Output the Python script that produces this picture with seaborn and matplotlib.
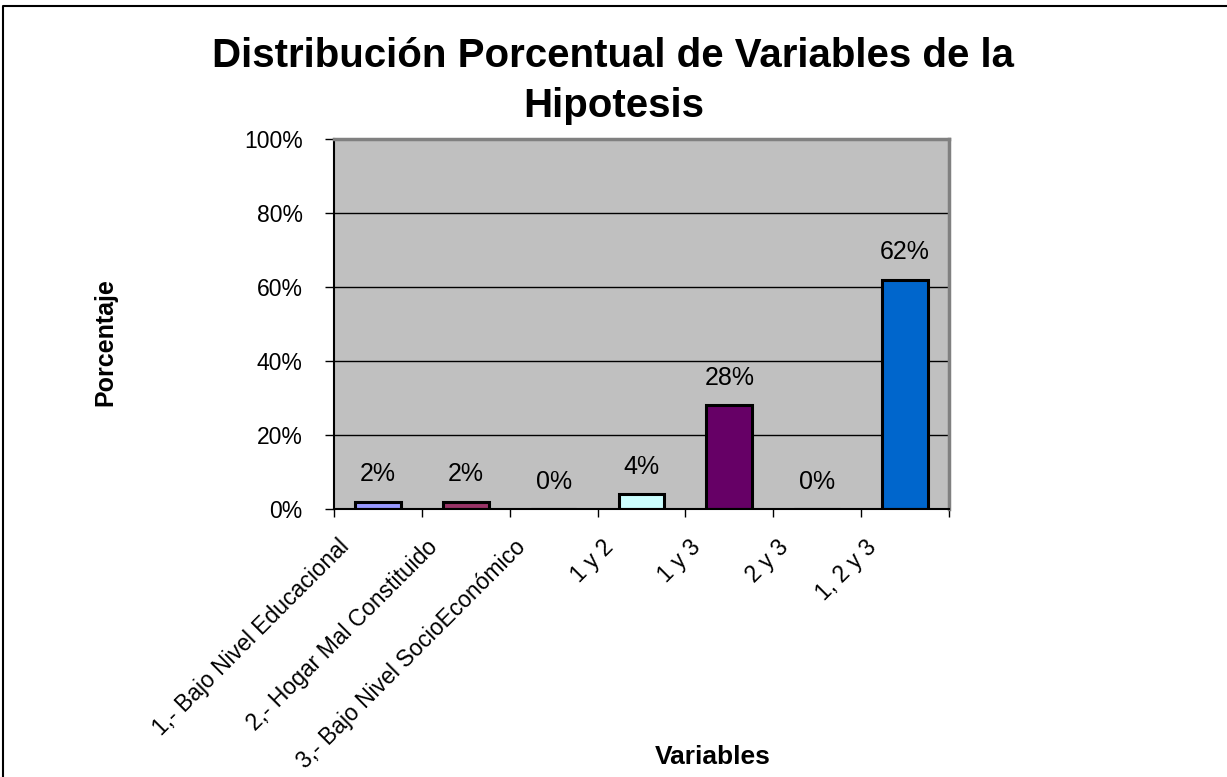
import seaborn as sns
import matplotlib.pyplot as plt
import matplotlib.transforms as mtransforms
from matplotlib.lines import Line2D

sns.set_style('white')
plt.rcParams['font.family'] = ['Liberation Sans', 'DejaVu Sans']
plt.rcParams['text.color'] = 'black'
plt.rcParams['xtick.color'] = 'black'
plt.rcParams['ytick.color'] = 'black'

categories = ['1,- Bajo Nivel Educacional', '2,- Hogar Mal Constituido',
              '3,- Bajo Nivel SocioEconómico', '1 y 2', '1 y 3', '2 y 3', '1, 2 y 3']
values = [2, 2, 0, 4, 28, 0, 62]
colors = ['#9999FF', '#993366', '#FFFFCC', '#CCFFFF', '#660066', '#FF8080', '#0066CC']
y_ticks = [0, 20, 40, 60, 80, 100]
y_tick_labels = ['0%', '20%', '40%', '60%', '80%', '100%']

fig = plt.figure(figsize=(12.27, 7.77), dpi=100)
ax = fig.add_axes([0.2722, 0.3449, 0.5012, 0.4762])
ax.set_facecolor('#C0C0C0')

sns.barplot(x=categories, y=values, hue=categories, palette=colors, legend=False,
            width=0.52, edgecolor='black', linewidth=2.2, saturation=1, ax=ax)

for cont in ax.containers:
    ax.bar_label(cont, fmt='%g%%', padding=11, fontsize=18, color='black')

ax.set_ylim(0, 100)
ax.set_xlim(-0.5, len(categories) - 0.5)
ax.set_yticks(y_ticks)
ax.set_yticklabels(y_tick_labels, fontsize=16.5)
ax.yaxis.grid(True, color='black', linewidth=1)
ax.set_axisbelow(True)
ax.tick_params(axis='y', length=6.5, width=1, color='black', direction='out', pad=16, left=True)

# category ticks at the boundaries, labels under the bars
ax.set_xticks(range(len(categories)))
ax.set_xticklabels(categories, fontsize=16.5, rotation=45, ha='right', va='top',
                   rotation_mode='anchor')
ax.set_xticks([i - 0.5 for i in range(len(categories) + 1)], minor=True)
ax.tick_params(axis='x', which='major', length=0, pad=19)
ax.tick_params(axis='x', which='minor', length=6, width=1, color='black', direction='out', bottom=True)
offset = mtransforms.ScaledTranslation(-40 / 100, 0, fig.dpi_scale_trans)
for lab in ax.get_xticklabels():
    lab.set_transform(lab.get_transform() + offset)

ax.set_xlabel('')
ax.set_ylabel('')
for side in ['left', 'bottom']:
    ax.spines[side].set_color('black')
    ax.spines[side].set_linewidth(1.5)
for side in ['top', 'right']:
    ax.spines[side].set_color('#808080')
    ax.spines[side].set_linewidth(2.5)

fig.text(0.5, 0.896, 'Distribución Porcentual de Variables de la\nHipotesis',
         ha='center', va='center', fontsize=29, fontweight='bold', linespacing=1.4)
fig.text(0.0856, 0.56, 'Porcentaje', rotation=90, ha='center', va='center',
         fontsize=18, fontweight='bold')
fig.text(0.581, 0.0257, 'Variables', ha='center', va='center',
         fontsize=19, fontweight='bold')

# outer chart border (left and top edges visible)
fig.add_artist(Line2D([3 / 1227, 3 / 1227, 1], [0, 1 - 6 / 777, 1 - 6 / 777],
                      transform=fig.transFigure, color='black', linewidth=1.5))

fig.savefig('out.png', dpi=100)
